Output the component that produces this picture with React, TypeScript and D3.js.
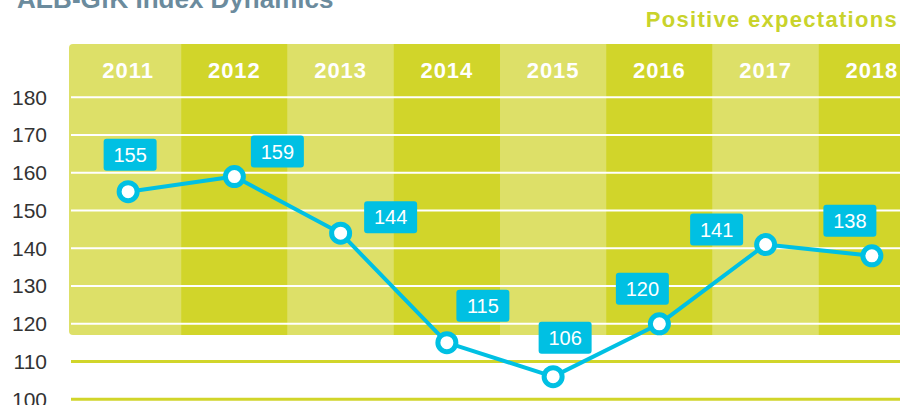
import { scaleBand, scaleLinear, line, range } from "d3";

const years = ["2011", "2012", "2013", "2014", "2015", "2016", "2017", "2018"];
const indexValues = [155, 159, 144, 115, 106, 120, 141, 138];
const yTicks = range(100, 181, 10);

// hand placed label boxes, offset from their point
const labelOffsets = [
  [2, -37],
  [43, -25],
  [50, -16],
  [36, -37],
  [12, -39],
  [-17, -35],
  [-49, -15],
  [-22, -35],
];

const width = 900;
const height = 405;
const panelTop = 44;
const panelBottom = 335;
const panelLeft = 69;

const lightBand = "#dde068";
const darkBand = "#d1d52a";
const cyan = "#00c0e3";

const App = () => {
  const x = scaleBand().domain(years).range([75, 925]);
  const y = scaleLinear().domain([100, 180]).range([399.3, 97.3]);
  const cx = (d: string) => (x(d) as number) + x.bandwidth() / 2;

  const path = line<number>()
    .x((_, i) => cx(years[i]))
    .y((d) => y(d))(indexValues);

  return (
    <svg
      width={width}
      height={height}
      style={{ position: "absolute", left: 0, top: 0, fontFamily: "Arial, 'Liberation Sans', sans-serif" }}
    >
      <defs>
        <clipPath id="panel">
          <rect x={panelLeft} y={panelTop} width={width - panelLeft + 10} height={panelBottom - panelTop} rx={4} />
        </clipPath>
      </defs>

      <text x={17} y={8} fontSize={26} fontWeight="bold" fill="#6b8b9d">
        AEB-GfK Index Dynamics
      </text>
      <text x={898} y={27} fontSize={22} fontWeight="bold" fill="#c9d32b" textAnchor="end" letterSpacing={1.3}>
        Positive expectations
      </text>

      <g clipPath="url(#panel)">
        <rect x={panelLeft} y={panelTop} width={width - panelLeft} height={panelBottom - panelTop} fill={lightBand} />
        {years.map((d, i) => (
          <rect
            key={d}
            x={x(d)}
            y={panelTop}
            width={x.bandwidth()}
            height={panelBottom - panelTop}
            fill={i % 2 === 0 ? lightBand : darkBand}
          />
        ))}
      </g>

      {years.map((d) => (
        <text
          key={d}
          x={cx(d)}
          y={78}
          fontSize={22}
          fontWeight="bold"
          fill="#fff"
          textAnchor="middle"
          letterSpacing={1}
        >
          {d}
        </text>
      ))}

      {yTicks.map((t) => {
        const inPanel = y(t) < panelBottom;
        return (
          <g key={t}>
            <line
              x1={71}
              x2={width}
              y1={y(t)}
              y2={y(t)}
              stroke={inPanel ? "#fff" : darkBand}
              strokeWidth={inPanel ? 2 : 3}
            />
            <text x={47} y={y(t)} dy="0.35em" fontSize={21} fill="#333" textAnchor="end">
              {t}
            </text>
          </g>
        );
      })}

      <path d={path || ""} fill="none" stroke={cyan} strokeWidth={4} strokeLinejoin="round" />

      {indexValues.map((v, i) => (
        <circle key={i} cx={cx(years[i])} cy={y(v)} r={9} fill="#fff" stroke={cyan} strokeWidth={5} />
      ))}

      {indexValues.map((v, i) => {
        const lx = cx(years[i]) + labelOffsets[i][0];
        const ly = y(v) + labelOffsets[i][1];
        return (
          <g key={i}>
            <rect x={lx - 26.5} y={ly - 16} width={53} height={32} rx={3} fill={cyan} />
            <text x={lx} y={ly} dy="0.36em" fontSize={20} fill="#fff" textAnchor="middle">
              {v}
            </text>
          </g>
        );
      })}
    </svg>
  );
};

export default App;
